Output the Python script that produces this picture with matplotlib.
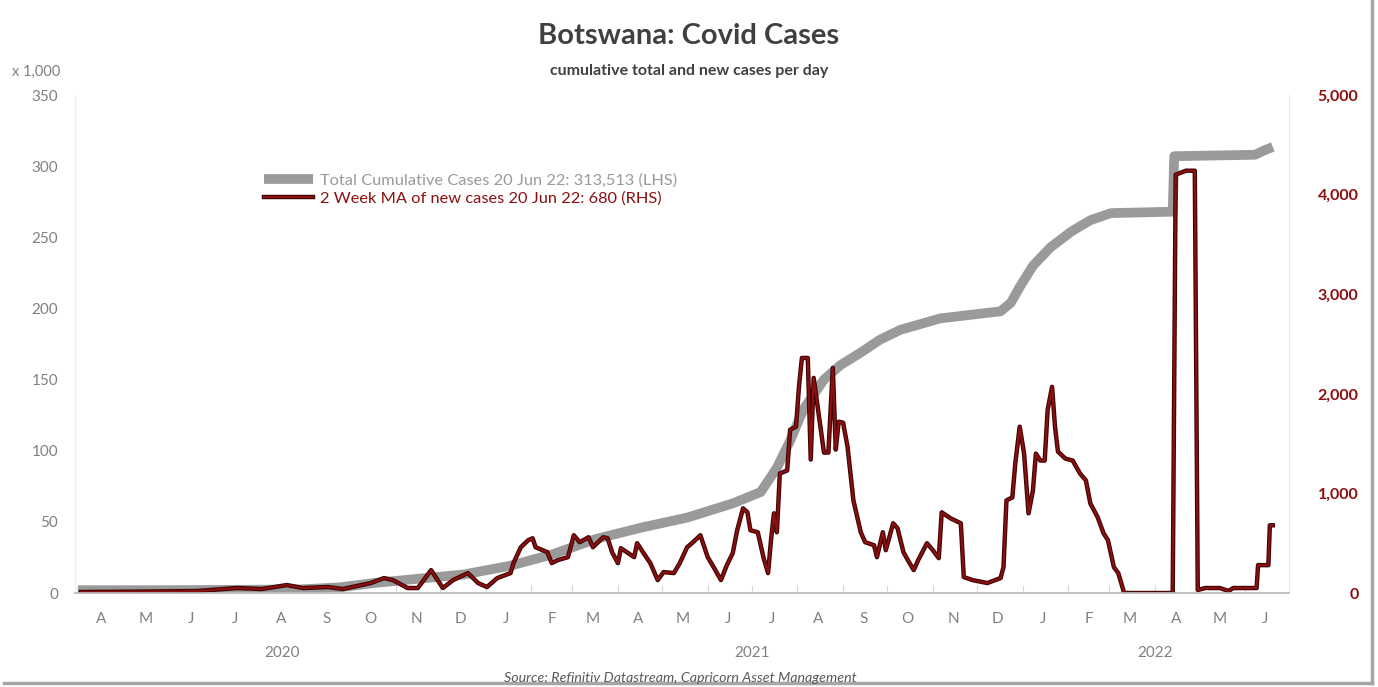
import matplotlib
matplotlib.use('Agg')
from matplotlib import pyplot as plt
from matplotlib import patheffects as pe
import matplotlib.dates as mdates
from matplotlib.lines import Line2D
import pandas as pd

plt.rcParams['font.family'] = ['Lato', 'DejaVu Sans']

# Total cumulative cases, thousands (LHS)
cum_dates = ['2020-03-30', '2020-06-01', '2020-08-28', '2020-09-24', '2020-10-17',
             '2020-11-16', '2020-12-17', '2021-01-17', '2021-02-15', '2021-03-17',
             '2021-04-17', '2021-05-18', '2021-06-18', '2021-07-07', '2021-07-18',
             '2021-07-27', '2021-08-05', '2021-08-19', '2021-08-30', '2021-09-13',
             '2021-09-26', '2021-10-10', '2021-11-06', '2021-12-17', '2021-12-24',
             '2021-12-30', '2022-01-08', '2022-01-20', '2022-02-03', '2022-02-16',
             '2022-03-02', '2022-04-13', '2022-04-14', '2022-06-08', '2022-06-14',
             '2022-06-20']
cum_vals = [2, 2, 2.5, 4, 7,
            10, 13, 19, 27, 38,
            46, 53, 63, 71, 88,
            107, 129, 150, 160, 169,
            178, 185, 193, 198, 204,
            215, 230, 243, 254, 262,
            267, 268, 307, 308, 311,
            313.513]

# 2 week moving average of new cases (RHS)
ma_dates = ['2020-04-01', '2020-05-18', '2020-06-19', '2020-07-16', '2020-08-02',
            '2020-08-19', '2020-08-30', '2020-09-16', '2020-09-26', '2020-10-15',
            '2020-10-24', '2020-10-30', '2020-11-09', '2020-11-16', '2020-11-25',
            '2020-12-03', '2020-12-10', '2020-12-20', '2020-12-27', '2021-01-02',
            '2021-01-09', '2021-01-18', '2021-01-20', '2021-01-25', '2021-01-30',
            '2021-02-02', '2021-02-04', '2021-02-12', '2021-02-15', '2021-02-19',
            '2021-02-26', '2021-03-02', '2021-03-06', '2021-03-12', '2021-03-15',
            '2021-03-22', '2021-03-25', '2021-03-28', '2021-04-01', '2021-04-03',
            '2021-04-08', '2021-04-12', '2021-04-14', '2021-04-18', '2021-04-23',
            '2021-04-28', '2021-05-02', '2021-05-09', '2021-05-13', '2021-05-18',
            '2021-05-22', '2021-05-27', '2021-06-01', '2021-06-05', '2021-06-10',
            '2021-06-14', '2021-06-18', '2021-06-21', '2021-06-25', '2021-06-28',
            '2021-06-30', '2021-07-05', '2021-07-09', '2021-07-12', '2021-07-14',
            '2021-07-16', '2021-07-18', '2021-07-20', '2021-07-25', '2021-07-27',
            '2021-07-31', '2021-08-02', '2021-08-04', '2021-08-08', '2021-08-10',
            '2021-08-12', '2021-08-15', '2021-08-19', '2021-08-22', '2021-08-25',
            '2021-08-27', '2021-08-29', '2021-09-01', '2021-09-04', '2021-09-08',
            '2021-09-13', '2021-09-16', '2021-09-22', '2021-09-24', '2021-09-28',
            '2021-09-30', '2021-10-05', '2021-10-08', '2021-10-12', '2021-10-15',
            '2021-10-19', '2021-10-22', '2021-10-28', '2021-11-01', '2021-11-05',
            '2021-11-07', '2021-11-13', '2021-11-20', '2021-11-22', '2021-11-28',
            '2021-12-08', '2021-12-17', '2021-12-19', '2021-12-21', '2021-12-25',
            '2021-12-27', '2021-12-30', '2022-01-02', '2022-01-05', '2022-01-08',
            '2022-01-10', '2022-01-13', '2022-01-16', '2022-01-18', '2022-01-21',
            '2022-01-23', '2022-01-25', '2022-01-30', '2022-02-04', '2022-02-09',
            '2022-02-13', '2022-02-16', '2022-02-21', '2022-02-25', '2022-02-28',
            '2022-03-04', '2022-03-07', '2022-03-11', '2022-04-13', '2022-04-15',
            '2022-04-22', '2022-04-28', '2022-04-30', '2022-05-05', '2022-05-15',
            '2022-05-21', '2022-05-24', '2022-06-09', '2022-06-10', '2022-06-17',
            '2022-06-18', '2022-06-20']
ma_vals = [10, 15, 20, 50, 40,
           80, 50, 60, 40, 100,
           150, 130, 50, 50, 230,
           50, 130, 200, 100, 60,
           150, 200, 300, 460, 530,
           550, 460, 410, 300, 330,
           360, 580, 510, 560, 460,
           560, 550, 410, 300, 450,
           400, 360, 500, 410, 300,
           130, 210, 200, 300, 460,
           510, 580, 360, 260, 130,
           280, 400, 630, 850, 810,
           630, 610, 350, 200, 530,
           800, 610, 1200, 1230, 1640,
           1670, 2070, 2360, 2360, 1340,
           2160, 1840, 1410, 1410, 2260,
           1440, 1720, 1710, 1470, 930,
           610, 510, 480, 360, 610,
           430, 700, 650, 410, 330,
           230, 330, 500, 430, 350,
           810, 750, 700, 160, 130,
           100, 150, 260, 930, 960,
           1300, 1670, 1400, 800, 1030,
           1400, 1330, 1330, 1840, 2070,
           1670, 1420, 1350, 1330, 1200,
           1130, 900, 760, 600, 530,
           260, 200, 0, 0, 4200,
           4240, 4240, 30, 50, 50,
           20, 50, 50, 280, 280,
           680, 680]

month_letters = ['J', 'F', 'M', 'A', 'M', 'J', 'J', 'A', 'S', 'O', 'N', 'D']
years = ['2020', '2021', '2022']
year_centres = ['2020-08-16', '2021-07-01', '2022-04-01']

GREY = '#9a9a9a'
RED = '#8c0f0f'
TXT = '#808080'

fig = plt.figure(figsize=(13.78, 6.87), dpi=100)
ax = fig.add_axes([0.0544, 0.1368, 0.8810, 0.7249])
ax2 = ax.twinx()

ax.plot(pd.to_datetime(cum_dates), cum_vals, color=GREY, lw=7,
        solid_capstyle='butt', solid_joinstyle='round',
        label='Total Cumulative Cases 20 Jun 22: 313,513 (LHS)')
ax2.plot(pd.to_datetime(ma_dates), ma_vals, color=RED, lw=1.6,
         path_effects=[pe.Stroke(linewidth=3.2, foreground='#3d0404'), pe.Normal()],
         label='2 Week MA of new cases 20 Jun 22: 680 (RHS)')

ax.set_ylim(0, 350)
ax2.set_ylim(0, 5000)
ax.set_yticks(range(0, 351, 50))
ax2.set_yticks(range(0, 5001, 1000))
ax2.set_yticklabels([f'{v:,}' for v in range(0, 5001, 1000)])
ax.set_xlim(pd.Timestamp('2020-03-28'), pd.Timestamp('2022-07-01'))

# month boundaries as small inward ticks, month initials centred between them
ax.xaxis.set_major_locator(mdates.MonthLocator())
ax.xaxis.set_major_formatter(plt.NullFormatter())
ax.xaxis.set_minor_locator(mdates.MonthLocator(bymonthday=15))
ax.xaxis.set_minor_formatter(plt.FuncFormatter(
    lambda v, pos: month_letters[mdates.num2date(v).month - 1]))
ax.tick_params(axis='x', which='major', direction='in', length=6, color='#d9d9d9')
ax.tick_params(axis='x', which='minor', length=0, pad=14, labelsize=11, labelcolor=TXT)
ax.tick_params(axis='y', length=0, pad=12, labelsize=11, labelcolor=TXT)
ax2.tick_params(axis='y', length=0, pad=50, labelsize=11.5, labelcolor=RED)
for lab in ax2.get_yticklabels():
    lab.set_horizontalalignment('right')
    lab.set_fontweight('bold')

for a in (ax, ax2):
    a.spines['top'].set_visible(False)
    a.spines['left'].set_color('#ececec')
    a.spines['right'].set_color('#ececec')
    a.spines['bottom'].set_color('#bfbfbf')
    a.spines['bottom'].set_linewidth(1.2)

trans = ax.get_xaxis_transform()
for yr, c in zip(years, year_centres):
    ax.text(pd.Timestamp(c), -0.12, yr, transform=trans, ha='center', va='center',
            fontsize=11, color=TXT)

h1, l1 = ax.get_legend_handles_labels()
h2, l2 = ax2.get_legend_handles_labels()
leg = ax2.legend(h1 + h2, l1 + l2, loc='upper left', bbox_to_anchor=(0.15, 0.856),
                 frameon=False, fontsize=11.8, handlelength=3.0, handletextpad=0.45,
                 labelspacing=0.2, borderaxespad=0)
for txt, col in zip(leg.get_texts(), [GREY, RED]):
    txt.set_color(col)

fig.text(0.5, 0.947, 'Botswana: Covid Cases', ha='center', va='center',
         fontsize=21, fontweight='bold', color='#404040')
fig.text(0.5, 0.896, 'cumulative total and new cases per day', ha='center',
         va='center', fontsize=11.5, fontweight='bold', color='#404040')
fig.text(0.026, 0.895, 'x 1,000', ha='center', va='center', fontsize=10.5, color=TXT)
fig.text(0.494, 0.013, 'Source: Refinitiv Datastream, Capricorn Asset Management',
         ha='center', va='center', fontsize=10.3, style='italic', color='#595959')

# frame shadow on the right and bottom edges
fig.add_artist(Line2D([0.003, 0.996], [0.006, 0.006], transform=fig.transFigure,
                      color='#a6a6a6', lw=2.5))
fig.add_artist(Line2D([0.996, 0.996], [0.006, 0.999], transform=fig.transFigure,
                      color='#a6a6a6', lw=2.5))

fig.savefig('out.png', dpi=100)
